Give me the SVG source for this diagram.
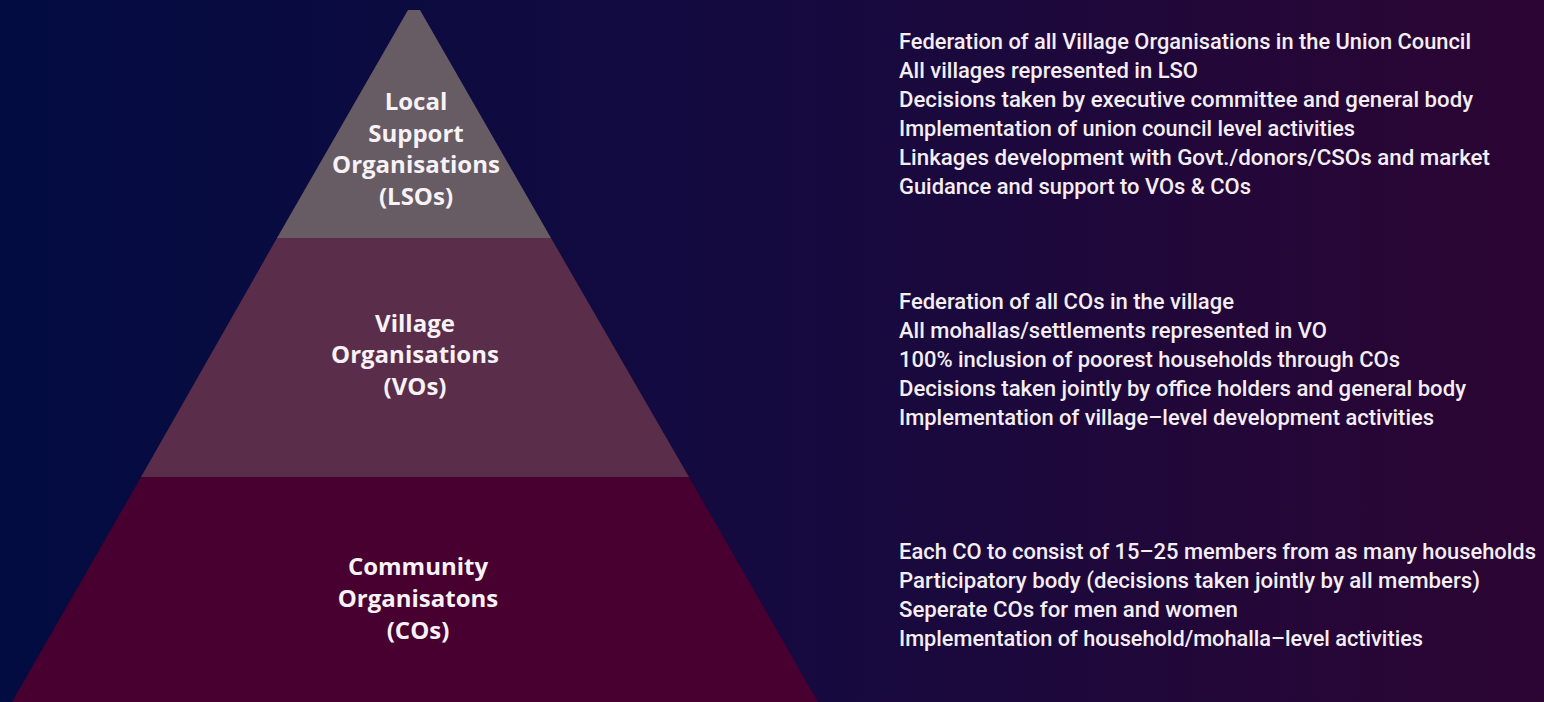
<svg xmlns="http://www.w3.org/2000/svg" width="1544" height="702" viewBox="0 0 1544 702">
<defs>
<linearGradient id="bg" x1="0" y1="0" x2="1" y2="0">
<stop offset="0" stop-color="#020c41"/>
<stop offset="0.5" stop-color="#150a40"/>
<stop offset="1" stop-color="#2c0533"/>
</linearGradient>
<style>
.lbl{font-family:"Open Sans",Lato,"DejaVu Sans",sans-serif;font-weight:bold;font-size:24px;fill:#f7f2f5;text-anchor:middle}
.desc{font-family:Roboto,"Liberation Sans",sans-serif;font-weight:500;font-size:22px;fill:#f4eef4}
</style>
</defs>
<rect x="0" y="0" width="1544" height="702" fill="url(#bg)"/>
<g id="lso">
<polygon points="408,10 420,10 551,238 277,238" fill="#675b64"/>
<text class="lbl" x="416" y="110">Local</text>
<text class="lbl" x="416" y="142">Support</text>
<text class="lbl" x="416" y="173">Organisations</text>
<text class="lbl" x="416" y="205">(LSOs)</text>
</g>
<g id="vo">
<polygon points="277,238 551,238 689,477 141,477" fill="#5a2d4a"/>
<text class="lbl" x="415" y="332">Village</text>
<text class="lbl" x="415" y="363">Organisations</text>
<text class="lbl" x="415" y="395">(VOs)</text>
</g>
<g id="co">
<polygon points="141,477 689,477 818,702 12,702" fill="#470030"/>
<text class="lbl" x="418" y="575">Community</text>
<text class="lbl" x="418" y="607">Organisatons</text>
<text class="lbl" x="418" y="639">(COs)</text>
</g>
<g id="lso-desc">
<text class="desc" x="899" y="49" textLength="572" lengthAdjust="spacingAndGlyphs">Federation of all Village Organisations in the Union Council</text>
<text class="desc" x="899" y="78" textLength="299" lengthAdjust="spacingAndGlyphs">All villages represented in LSO</text>
<text class="desc" x="899" y="107" textLength="574" lengthAdjust="spacingAndGlyphs">Decisions taken by executive committee and general body</text>
<text class="desc" x="899" y="136" textLength="456" lengthAdjust="spacingAndGlyphs">Implementation of union council level activities</text>
<text class="desc" x="899" y="165" textLength="591" lengthAdjust="spacingAndGlyphs">Linkages development with Govt./donors/CSOs and market</text>
<text class="desc" x="899" y="194" textLength="352" lengthAdjust="spacingAndGlyphs">Guidance and support to VOs &amp; COs</text>
</g>
<g id="vo-desc">
<text class="desc" x="899" y="309" textLength="335" lengthAdjust="spacingAndGlyphs">Federation of all COs in the village</text>
<text class="desc" x="899" y="338" textLength="428" lengthAdjust="spacingAndGlyphs">All mohallas/settlements represented in VO</text>
<text class="desc" x="899" y="367" textLength="501" lengthAdjust="spacingAndGlyphs">100% inclusion of poorest households through COs</text>
<text class="desc" x="899" y="396" textLength="567" lengthAdjust="spacingAndGlyphs">Decisions taken jointly by office holders and general body</text>
<text class="desc" x="899" y="425" textLength="535" lengthAdjust="spacingAndGlyphs">Implementation of village–level development activities</text>
</g>
<g id="co-desc">
<text class="desc" x="899" y="559" textLength="637" lengthAdjust="spacingAndGlyphs">Each CO to consist of 15–25 members from as many households</text>
<text class="desc" x="899" y="588" textLength="581" lengthAdjust="spacingAndGlyphs">Participatory body (decisions taken jointly by all members)</text>
<text class="desc" x="899" y="617" textLength="339" lengthAdjust="spacingAndGlyphs">Seperate COs for men and women</text>
<text class="desc" x="899" y="646" textLength="524" lengthAdjust="spacingAndGlyphs">Implementation of household/mohalla–level activities</text>
</g>
<g id="connectors"/>
</svg>
